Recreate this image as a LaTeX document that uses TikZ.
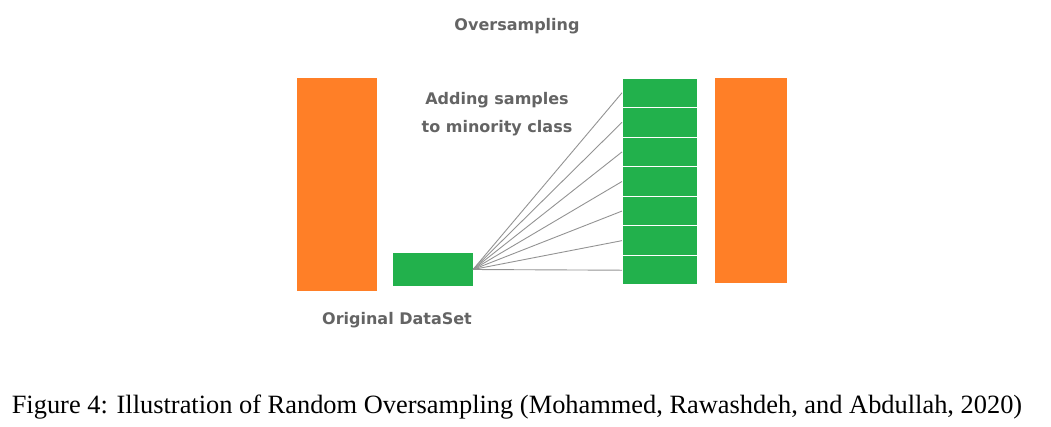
\documentclass[tikz,border=0pt]{standalone}
\usepackage{fontspec}
\setmainfont{Liberation Serif}
\newfontfamily\sketchfont{DejaVu Sans}
\usetikzlibrary{positioning}

\definecolor{barorange}{RGB}{255,127,39}
\definecolor{bargreen}{RGB}{34,177,76}
\definecolor{labelgray}{RGB}{100,100,100}

\begin{document}
\begin{tikzpicture}[x=1pt, y=-1pt,
    bar/.style={rectangle, inner sep=0pt, outer sep=0pt},
    majority/.style={bar, fill=barorange},
    minority/.style={bar, fill=bargreen},
    copycell/.style={minority, draw=white, line width=1.2pt,
        minimum width=76pt, minimum height=29.6pt},
    sketch/.style={font=\sketchfont\bfseries\fontsize{16}{28}\selectfont,
        text=labelgray, align=center},
    link/.style={draw=gray!85, line width=0.9pt}]

\useasboundingbox (0,0) rectangle (1051,426);

% STEP 1: The original data set, majority and minority class.
\node[majority, minimum width=80pt, minimum height=213pt] (major) at (337,184.5) {};
\node[minority, minimum width=80pt, minimum height=33pt] (minor) at (433,269.5) {};

% STEP 2: The minority class after adding copies, one cell per sample.
\foreach \i in {1,...,7}
    \node[copycell] (cell\i) at (660,{78+29.57*(\i-0.5)}) {};

% STEP 3: The majority class stays as it is.
\node[majority, minimum width=72pt, minimum height=205pt] (majorafter) at (751,180.5) {};

% STEP 4: Link the minority block to each copy.
\foreach \i in {1,...,7}
    \draw[link] (minor.east) -- (cell\i.west);

% STEP 5: Labels and caption.
\node[sketch] (title) at (517,26) {Oversampling};
\node[sketch] (addlabel) at (497,114) {Adding samples\\to minority class};
\node[sketch] (origlabel) at (397,320) {Original DataSet};
\node[font=\fontsize{26.4}{30}\selectfont] (caption) at (517,407)
    {Figure 4: Illustration of Random Oversampling (Mohammed, Rawashdeh, and Abdullah, 2020)};

\end{tikzpicture}
\end{document}
